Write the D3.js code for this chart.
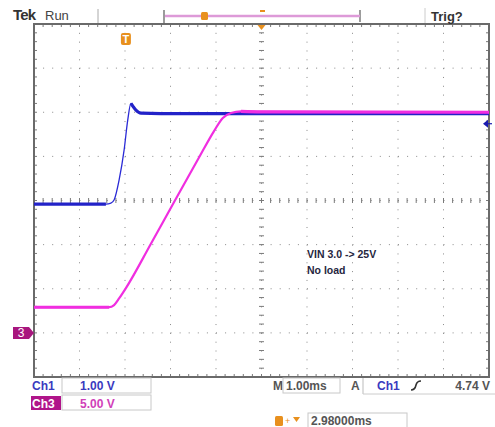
<!DOCTYPE html>
<html>
<head>
<meta charset="utf-8">
<script src="https://cdn.jsdelivr.net/npm/d3@7"></script>
<style>
  body { margin: 0; background: #fff; }
  text { font-family: 'Liberation Sans', Arial, sans-serif; }
</style>
</head>
<body>
<div id="scope"></div>
<script>
// Ch1 trace: time (ms from trigger) and volts
const ch1Time = [-2.02, -0.44, -0.33, -0.26, -0.15, -0.04, 0.04, 0.11, 0.22, 0.33, 0.77, 7.98];
const ch1Volts = [2.92, 2.92, 2.94, 3.01, 3.46, 4.14, 4.82, 5.2, 5.05, 4.98, 4.97, 4.97];
// Ch3 trace
const ch3Time = [-2.02, -0.37, -0.26, -0.15, 0, 0.55, 1.05, 1.6, 1.93, 2.13, 2.31, 2.53, 2.97, 7.98];
const ch3Volts = [2.91, 2.91, 3.15, 3.9, 5.07, 10.1, 14.74, 19.81, 22.81, 24.35, 24.92, 25.1, 25.05, 25.0];

const timeRange = [-2.02, 7.98]; // 1.00 ms/div, trigger offset 2.98 ms
const ch1Range = [-1, 7]; // 1.00 V/div
const ch3Range = [-5, 35]; // 5.00 V/div
const trigLevel = 4.74;
const annotation = ['VIN 3.0 -> 25V', 'No load'];

const W = 495, H = 427;
const pL = 34, pR = 489, pT = 24, pB = 377;

const svg = d3.select('#scope').append('svg').attr('width', W).attr('height', H);

const x = d3.scaleLinear().domain(timeRange).range([pL, pR]);
const y1 = d3.scaleLinear().domain(ch1Range).range([pB, pT]);
const y3 = d3.scaleLinear().domain(ch3Range).range([pB, pT]);
const gx = d3.scaleLinear().domain([0, 10]).range([pL, pR]);
const gy = d3.scaleLinear().domain([0, 8]).range([pT, pB]);

// graticule dotted lines
const grid = svg.append('g');
d3.range(1, 10).forEach((i) => {
  grid.append('line')
    .attr('x1', gx(i)).attr('x2', gx(i)).attr('y1', pT).attr('y2', pB)
    .attr('stroke', '#8a8a8a').attr('stroke-width', 1)
    .attr('stroke-dasharray', `1,${(gy(1) - gy(0)) / 5 - 1}`);
});
d3.range(1, 8).forEach((i) => {
  grid.append('line')
    .attr('x1', pL).attr('x2', pR).attr('y1', gy(i)).attr('y2', gy(i))
    .attr('stroke', '#8a8a8a').attr('stroke-width', 1)
    .attr('stroke-dasharray', `1,${(gx(1) - gx(0)) / 5 - 1}`);
});

// minor ticks on borders and center axes
const ticks = svg.append('g').attr('stroke', '#7a7a7a').attr('stroke-width', 1);
d3.range(0, 50.01, 1).forEach((i) => {
  const px = gx(i / 5);
  ticks.append('line').attr('x1', px).attr('x2', px).attr('y1', pT).attr('y2', pT + 3);
  ticks.append('line').attr('x1', px).attr('x2', px).attr('y1', pB - 3).attr('y2', pB);
  ticks.append('line').attr('x1', px).attr('x2', px).attr('y1', gy(4) - 2.5).attr('y2', gy(4) + 2.5);
});
d3.range(0, 40.01, 1).forEach((i) => {
  const py = gy(i / 5);
  ticks.append('line').attr('x1', pL).attr('x2', pL + 3).attr('y1', py).attr('y2', py);
  ticks.append('line').attr('x1', pR - 3).attr('x2', pR).attr('y1', py).attr('y2', py);
  ticks.append('line').attr('x1', gx(5) - 2.5).attr('x2', gx(5) + 2.5).attr('y1', py).attr('y2', py);
});

// frame
svg.append('rect')
  .attr('x', pL).attr('y', pT).attr('width', pR - pL).attr('height', pB - pT)
  .attr('fill', 'none').attr('stroke', '#6a6a6a').attr('stroke-width', 2);

// traces
const ch1 = ch1Time.map((t, i) => ({ t, v: ch1Volts[i] }));
const ch3 = ch3Time.map((t, i) => ({ t, v: ch3Volts[i] }));
const line1 = d3.line().x((d) => x(d.t)).y((d) => y1(d.v)).curve(d3.curveMonotoneX);
const line3 = d3.line().x((d) => x(d.t)).y((d) => y3(d.v)).curve(d3.curveMonotoneX);

svg.append('path').attr('d', line1(ch1)).attr('fill', 'none')
  .attr('stroke', '#2a2ad6').attr('stroke-width', 1.3);
svg.append('path').attr('d', line1(ch1.slice(0, 2))).attr('fill', 'none')
  .attr('stroke', '#2222c8').attr('stroke-width', 3.2);
svg.append('path').attr('d', line1(ch1.slice(7))).attr('fill', 'none')
  .attr('stroke', '#2222c8').attr('stroke-width', 3.2);

svg.append('path').attr('d', line3(ch3)).attr('fill', 'none')
  .attr('stroke', '#f02ee0').attr('stroke-width', 2.2);
svg.append('path').attr('d', line3(ch3.slice(0, 2))).attr('fill', 'none')
  .attr('stroke', '#f02ee0').attr('stroke-width', 3);
svg.append('path').attr('d', line3(ch3.slice(11))).attr('fill', 'none')
  .attr('stroke', '#f02ee0').attr('stroke-width', 3.2);

// trigger level marker (right)
const ty = y1(trigLevel);
svg.append('path')
  .attr('d', `M${pR - 6},${ty} L${pR - 1},${ty - 4} L${pR - 1},${ty + 4} Z`)
  .attr('fill', '#1a1ab0');
svg.append('line').attr('x1', pR - 2).attr('x2', pR + 3).attr('y1', ty).attr('y2', ty)
  .attr('stroke', '#1a1ab0').attr('stroke-width', 1.2);

// ch3 ground marker
const g3 = y3(0);
svg.append('path')
  .attr('d', `M13,${g3 - 6} L29,${g3 - 6} L34,${g3} L29,${g3 + 6} L13,${g3 + 6} Z`)
  .attr('fill', '#a8167e');
svg.append('text').attr('x', 21).attr('y', g3 + 4.5).attr('text-anchor', 'middle')
  .attr('font-size', 12).attr('fill', '#fff').text('3');

// trigger position marker
const tx = x(0);
svg.append('rect').attr('x', tx - 5).attr('y', 33).attr('width', 10).attr('height', 12).attr('rx', 2)
  .attr('fill', '#e8901e');
svg.append('text').attr('x', tx).attr('y', 43).attr('text-anchor', 'middle')
  .attr('font-size', 11).attr('font-weight', 'bold').attr('fill', '#fff').text('T');

// center horizontal position marker
svg.append('path').attr('d', `M${gx(5) - 4},${pT + 1} L${gx(5) + 4},${pT + 1} L${gx(5)},${pT + 6} Z`)
  .attr('fill', '#e8901e');

// header
svg.append('text').attr('x', 13).attr('y', 20).attr('font-size', 15).attr('font-weight', 'bold')
  .attr('fill', '#333').attr('letter-spacing', -0.8).text('Tek');
svg.append('text').attr('x', 45).attr('y', 20).attr('font-size', 13).attr('fill', '#444').text('Run');
svg.append('line').attr('x1', 98).attr('x2', 98).attr('y1', 9).attr('y2', 23).attr('stroke', '#aaa');
svg.append('line').attr('x1', 425).attr('x2', 425).attr('y1', 8).attr('y2', 23).attr('stroke', '#ccc');
svg.append('line').attr('x1', 164).attr('x2', 164).attr('y1', 10).attr('y2', 24).attr('stroke', '#666').attr('stroke-width', 1.3);
svg.append('line').attr('x1', 360).attr('x2', 360).attr('y1', 10).attr('y2', 22).attr('stroke', '#666').attr('stroke-width', 1.3);
svg.append('line').attr('x1', 165).attr('x2', 360).attr('y1', 16).attr('y2', 16).attr('stroke', '#dd9ad8').attr('stroke-width', 2.5);
svg.append('rect').attr('x', 201).attr('y', 12).attr('width', 7).attr('height', 8).attr('rx', 1.5).attr('fill', '#e8901e');
svg.append('rect').attr('x', 260).attr('y', 10).attr('width', 5).attr('height', 2).attr('fill', '#e8901e');
svg.append('text').attr('x', 431).attr('y', 21).attr('font-size', 13).attr('font-weight', 'bold')
  .attr('fill', '#333').text('Trig?');

// annotation
annotation.forEach((s, i) => {
  svg.append('text').attr('x', 307).attr('y', 258 + i * 16).attr('font-size', 10.5)
    .attr('font-weight', 'bold').attr('fill', '#262640').text(s);
});

// bottom readouts
const box = (bx, by, bw, bh) => svg.append('rect').attr('x', bx).attr('y', by).attr('width', bw).attr('height', bh)
  .attr('fill', 'none').attr('stroke', '#c8c8c8').attr('stroke-width', 1);
const label = (lx, ly, s, fill, anchor) => svg.append('text').attr('x', lx).attr('y', ly)
  .attr('text-anchor', anchor || 'start').attr('font-size', 12).attr('font-weight', 'bold')
  .attr('fill', fill).text(s);

box(62, 378, 89, 15);
box(62, 395, 89, 15);
label(32, 390, 'Ch1', '#3a3ac0');
label(80, 390, '1.00 V', '#3a3ac0');
svg.append('rect').attr('x', 31).attr('y', 396).attr('width', 30).attr('height', 14).attr('fill', '#b0158a');
label(32, 407.5, 'Ch3', '#fff');
label(80, 407.5, '5.00 V', '#d040b8');

label(273, 390, 'M', '#555');
box(283, 378, 57, 15);
label(286, 390, '1.00ms', '#555');
label(351, 390, 'A', '#555');
svg.append('line').attr('x1', 363).attr('x2', 363).attr('y1', 378).attr('y2', 394).attr('stroke', '#bbb');
svg.append('line').attr('x1', 363).attr('x2', 495).attr('y1', 394).attr('y2', 394).attr('stroke', '#ccc');
label(377, 390, 'Ch1', '#3a3ac0');
svg.append('path').attr('d', 'M411,390 Q415,390 416,385 Q417,381 421,381')
  .attr('fill', 'none').attr('stroke', '#333').attr('stroke-width', 1.6);
label(490, 390, trigLevel.toFixed(2) + ' V', '#555', 'end');

// horizontal position readout
svg.append('rect').attr('x', 275).attr('y', 416).attr('width', 8).attr('height', 10).attr('rx', 1.5).attr('fill', '#e8901e');
svg.append('text').attr('x', 285).attr('y', 424).attr('font-size', 9).attr('fill', '#e8901e').text('+');
svg.append('path').attr('d', 'M293,417 L300,417 L296.5,422 Z').attr('fill', '#e8901e');
box(308, 413, 99, 16);
label(311, 425, '2.98000ms', '#555');
</script>
</body>
</html>
